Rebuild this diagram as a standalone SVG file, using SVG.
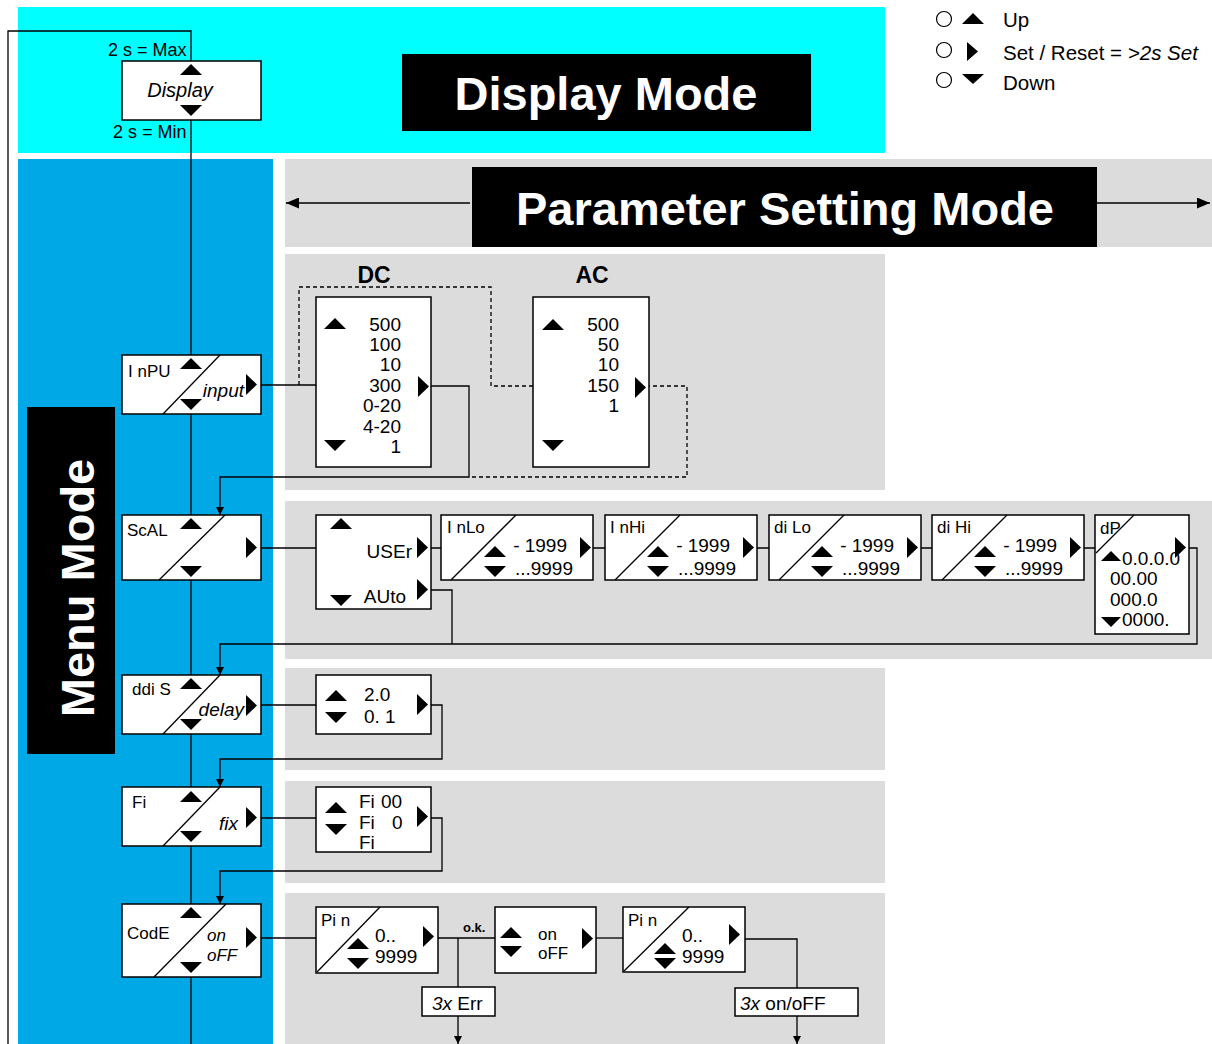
<svg xmlns="http://www.w3.org/2000/svg" xmlns:xlink="http://www.w3.org/1999/xlink" width="1212" height="1044" viewBox="0 0 1212 1044">
<style>
text { font-family: "Liberation Sans", Arial, sans-serif; fill: #000; }
.box { fill: #fff; stroke: #000; stroke-width: 1.5; }
.dg { stroke: #000; stroke-width: 1.3; }
.cn { fill: none; stroke: #000; stroke-width: 1.3; }
.dash { fill: none; stroke: #000; stroke-width: 1.3; stroke-dasharray: 4 3; }
.lcd { font-size: 19px; }
.lb { font-size: 17px; }
.it { font-style: italic; }
.title { font-size: 47px; font-weight: bold; fill: #fff; }
.leg { font-size: 20.5px; }
.gray { fill: #DCDCDC; }
</style>
<defs>
<path id="up" d="M0,0 L11,11 L-11,11 Z"/>
<path id="dn" d="M-11,0 L11,0 L0,11 Z"/>
<path id="rt" d="M0,0 L11,10.5 L0,21 Z"/>
<path id="ups" d="M0,0 L10,10 L-10,10 Z"/>
<path id="dns" d="M-10,0 L10,0 L0,10 Z"/>
<marker id="ah" markerWidth="8" markerHeight="8" refX="8" refY="4" orient="auto" markerUnits="userSpaceOnUse"><path d="M0,0 L8,4 L0,8 Z"/></marker>
<marker id="ahl" markerWidth="13" markerHeight="11" refX="13" refY="5.5" orient="auto" markerUnits="userSpaceOnUse"><path d="M0,0 L13,5.5 L0,11 Z"/></marker>
</defs>

<g id="background">
<rect x="0" y="0" width="1212" height="1044" fill="#fff"/>
<rect x="18" y="7" width="867" height="146" fill="#00FFFF"/>
<rect x="18" y="159" width="255" height="885" fill="#00A9E6"/>
<rect class="gray" x="285" y="159" width="927" height="88"/>
<rect class="gray" x="285" y="254" width="600" height="236"/>
<rect class="gray" x="285" y="501" width="927" height="158"/>
<rect class="gray" x="285" y="668" width="600" height="102"/>
<rect class="gray" x="285" y="781" width="600" height="102"/>
<rect class="gray" x="285" y="893" width="600" height="151"/>
</g>

<g id="titles">
<rect x="402" y="54" width="409" height="77" fill="#000"/>
<text class="title" x="606" y="110" text-anchor="middle">Display Mode</text>
<rect x="472" y="167" width="625" height="80" fill="#000"/>
<text class="title" x="785" y="225" text-anchor="middle">Parameter Setting Mode</text>
<rect x="27" y="407" width="88" height="347" fill="#000"/>
<text class="title" transform="translate(94,588) rotate(-90)" x="0" y="0" text-anchor="middle">Menu Mode</text>
</g>

<g id="legend">
<circle cx="944" cy="19" r="7.5" fill="#fff" stroke="#000" stroke-width="1.2"/>
<circle cx="944" cy="50" r="7.5" fill="#fff" stroke="#000" stroke-width="1.2"/>
<circle cx="944" cy="80" r="7.5" fill="#fff" stroke="#000" stroke-width="1.2"/>
<use xlink:href="#up" x="973" y="13"/>
<path d="M967,42 L978,51.5 L967,61 Z"/>
<path d="M962,74 L984,74 L973,84 Z"/>
<text class="leg" x="1003" y="27">Up</text>
<text class="leg" x="1003" y="60">Set / Reset = <tspan class="it">&gt;2s Set</tspan></text>
<text class="leg" x="1003" y="90">Down</text>
</g>

<g id="connectors">
<path class="cn" d="M8,1044 V31 H191 V1044"/>
<path class="cn" d="M261,385 H316"/>
<path class="dash" d="M299,385 V287 H491 V386 H533"/>
<path class="dash" d="M646,386 H687 V477 H469"/>
<path class="cn" d="M429,386 H469 V477 H220 V515" marker-end="url(#ah)"/>
<path class="cn" d="M261,548 H316"/>
<path class="cn" d="M431,548 H441 M593,548 H605 M757,548 H769 M921,548 H932 M1084,548 H1095"/>
<path class="cn" d="M1189,548 H1197 V644 H220 V675" marker-end="url(#ah)"/>
<path class="cn" d="M431,590 H452 V644"/>
<path class="cn" d="M261,705 H316"/>
<path class="cn" d="M431,705 H442 V759 H220 V787" marker-end="url(#ah)"/>
<path class="cn" d="M261,818 H316"/>
<path class="cn" d="M431,818 H442 V871 H220 V904" marker-end="url(#ah)"/>
<path class="cn" d="M261,938 H316"/>
<path class="cn" d="M438,938 H495"/>
<path class="cn" d="M458,938 V987"/>
<path class="cn" d="M458,1016 V1044" marker-end="url(#ah)"/>
<path class="cn" d="M596,938 H623"/>
<path class="cn" d="M745,939 H797 V988"/>
<path class="cn" d="M797,1016 V1044" marker-end="url(#ah)"/>
<path class="cn" d="M470,203 H286" marker-end="url(#ahl)"/>
<path class="cn" d="M1097,203 H1210" marker-end="url(#ahl)"/>
<text x="463" y="932" font-size="13" font-weight="bold">o.k.</text>
<text x="108" y="56" font-size="18">2 s = Max</text>
<text x="113" y="138" font-size="18">2 s = Min</text>
</g>

<g id="display">
<rect class="box" x="122" y="61" width="139" height="59"/>
<use xlink:href="#up" x="191" y="64"/>
<use xlink:href="#dn" x="191" y="105"/>
<text class="it" x="180" y="97" font-size="20" text-anchor="middle">Display</text>
</g>

<g id="menu-inpu">
<rect class="box" x="122" y="355" width="139" height="59"/>
<line class="dg" x1="163" y1="414" x2="220" y2="355"/>
<text class="lb" x="128" y="377">I nPU</text>
<use xlink:href="#up" x="191" y="358"/>
<use xlink:href="#dn" x="191" y="399"/>
<text class="it" x="244" y="397" font-size="19" text-anchor="end">input</text>
<use xlink:href="#rt" x="246" y="374"/>
</g>

<g id="menu-scal">
<rect class="box" x="122" y="515" width="139" height="65"/>
<line class="dg" x1="159" y1="580" x2="225" y2="515"/>
<text class="lb" x="127" y="536">ScAL</text>
<use xlink:href="#up" x="191" y="518"/>
<use xlink:href="#dn" x="191" y="566"/>
<use xlink:href="#rt" x="246" y="537"/>
</g>

<g id="menu-ddis">
<rect class="box" x="122" y="675" width="139" height="59"/>
<line class="dg" x1="163" y1="734" x2="220" y2="675"/>
<text class="lb" x="132" y="695">ddi S</text>
<use xlink:href="#up" x="191" y="678"/>
<use xlink:href="#dn" x="191" y="719"/>
<text class="it" x="244" y="716" font-size="19" text-anchor="end">delay</text>
<use xlink:href="#rt" x="246" y="695"/>
</g>

<g id="menu-fi">
<rect class="box" x="122" y="787" width="139" height="59"/>
<line class="dg" x1="163" y1="846" x2="220" y2="787"/>
<text class="lb" x="132" y="808">Fi</text>
<use xlink:href="#up" x="191" y="791"/>
<use xlink:href="#dn" x="191" y="831"/>
<text class="it" x="238" y="830" font-size="19" text-anchor="end">fix</text>
<use xlink:href="#rt" x="246" y="807"/>
</g>

<g id="menu-code">
<rect class="box" x="122" y="904" width="139" height="73"/>
<line class="dg" x1="154" y1="977" x2="226" y2="904"/>
<text class="lb" x="127" y="939">CodE</text>
<use xlink:href="#up" x="191" y="907"/>
<use xlink:href="#dn" x="191" y="962"/>
<text class="it" x="207" y="941" font-size="17">on</text>
<text class="it" x="207" y="961" font-size="17">oFF</text>
<use xlink:href="#rt" x="246" y="927"/>
</g>

<g id="dc">
<text x="374" y="283" font-size="23" font-weight="bold" text-anchor="middle">DC</text>
<rect class="box" x="316" y="297" width="115" height="170"/>
<use xlink:href="#up" x="335" y="318"/>
<use xlink:href="#dn" x="335" y="440"/>
<g class="lcd" text-anchor="end">
<text x="401" y="331">500</text>
<text x="401" y="351">100</text>
<text x="401" y="371">10</text>
<text x="401" y="392">300</text>
<text x="401" y="412">0-20</text>
<text x="401" y="433">4-20</text>
<text x="401" y="453">1</text>
</g>
<use xlink:href="#rt" x="418" y="376"/>
</g>

<g id="ac">
<text x="592" y="283" font-size="23" font-weight="bold" text-anchor="middle">AC</text>
<rect class="box" x="533" y="297" width="116" height="170"/>
<use xlink:href="#up" x="553" y="319"/>
<use xlink:href="#dn" x="553" y="440"/>
<g class="lcd" text-anchor="end">
<text x="619" y="331">500</text>
<text x="619" y="351">50</text>
<text x="619" y="371">10</text>
<text x="619" y="392">150</text>
<text x="619" y="412">1</text>
</g>
<use xlink:href="#rt" x="635" y="377"/>
</g>

<g id="scal-mode">
<rect class="box" x="316" y="515" width="115" height="94"/>
<use xlink:href="#up" x="341" y="518"/>
<use xlink:href="#dn" x="341" y="595"/>
<text class="lcd" x="412" y="558" text-anchor="end">USEr</text>
<text class="lcd" x="406" y="603" text-anchor="end">AUto</text>
<use xlink:href="#rt" x="417" y="537"/>
<use xlink:href="#rt" x="417" y="579"/>
</g>

<g id="inlo">
<rect class="box" x="441" y="515" width="152" height="65"/>
<line class="dg" x1="451" y1="580" x2="516" y2="515"/>
<text class="lb" x="447" y="533">I nLo</text>
<use xlink:href="#up" x="495" y="546"/>
<use xlink:href="#dn" x="495" y="566"/>
<text class="lcd" x="567" y="552" text-anchor="end">- 1999</text>
<text class="lcd" x="573" y="575" text-anchor="end">...9999</text>
<use xlink:href="#rt" x="580" y="537"/>
</g>

<g id="inhi">
<rect class="box" x="605" y="515" width="152" height="65"/>
<line class="dg" x1="615" y1="580" x2="680" y2="515"/>
<text class="lb" x="610" y="533">I nHi</text>
<use xlink:href="#up" x="658" y="546"/>
<use xlink:href="#dn" x="658" y="566"/>
<text class="lcd" x="730" y="552" text-anchor="end">- 1999</text>
<text class="lcd" x="736" y="575" text-anchor="end">...9999</text>
<use xlink:href="#rt" x="743" y="537"/>
</g>

<g id="dilo">
<rect class="box" x="769" y="515" width="152" height="65"/>
<line class="dg" x1="779" y1="580" x2="844" y2="515"/>
<text class="lb" x="774" y="533">di Lo</text>
<use xlink:href="#up" x="822" y="546"/>
<use xlink:href="#dn" x="822" y="566"/>
<text class="lcd" x="894" y="552" text-anchor="end">- 1999</text>
<text class="lcd" x="900" y="575" text-anchor="end">...9999</text>
<use xlink:href="#rt" x="907" y="537"/>
</g>

<g id="dihi">
<rect class="box" x="932" y="515" width="152" height="65"/>
<line class="dg" x1="942" y1="580" x2="1007" y2="515"/>
<text class="lb" x="937" y="533">di Hi</text>
<use xlink:href="#up" x="985" y="546"/>
<use xlink:href="#dn" x="985" y="566"/>
<text class="lcd" x="1057" y="552" text-anchor="end">- 1999</text>
<text class="lcd" x="1063" y="575" text-anchor="end">...9999</text>
<use xlink:href="#rt" x="1070" y="537"/>
</g>

<g id="dp">
<rect class="box" x="1095" y="515" width="94" height="119"/>
<line class="dg" x1="1096" y1="553" x2="1134" y2="515"/>
<text class="lb" x="1100" y="534">dP</text>
<use xlink:href="#ups" x="1111" y="551"/>
<use xlink:href="#dns" x="1111" y="617"/>
<text class="lcd" x="1122" y="565" font-size="17">0.0.0.0</text>
<text class="lcd" x="1110" y="585" font-size="17">00.00</text>
<text class="lcd" x="1110" y="606" font-size="17">000.0</text>
<text class="lcd" x="1122" y="626" font-size="17">0000.</text>
<use xlink:href="#rt" x="1175" y="537"/>
</g>

<g id="delay-values">
<rect class="box" x="316" y="675" width="115" height="59"/>
<use xlink:href="#up" x="336" y="690"/>
<use xlink:href="#dn" x="336" y="712"/>
<text class="lcd" x="364" y="701">2.0</text>
<text class="lcd" x="364" y="723">0. 1</text>
<use xlink:href="#rt" x="417" y="694"/>
</g>

<g id="fix-values">
<rect class="box" x="316" y="787" width="115" height="65"/>
<use xlink:href="#up" x="336" y="802"/>
<use xlink:href="#dn" x="336" y="824"/>
<text class="lcd" x="359" y="808">Fi <tspan x="381">00</tspan></text>
<text class="lcd" x="359" y="829">Fi <tspan x="392">0</tspan></text>
<text class="lcd" x="359" y="849">Fi</text>
<use xlink:href="#rt" x="417" y="806"/>
</g>

<g id="pin1">
<rect class="box" x="316" y="907" width="122" height="66"/>
<line class="dg" x1="317" y1="972" x2="380" y2="907"/>
<text class="lb" x="321" y="926">Pi n</text>
<use xlink:href="#up" x="358" y="938"/>
<use xlink:href="#dn" x="358" y="958"/>
<text class="lcd" x="375" y="942" font-size="17">0..</text>
<text class="lcd" x="375" y="963" font-size="18">9999</text>
<use xlink:href="#rt" x="423" y="926"/>
</g>

<g id="onoff">
<rect class="box" x="495" y="907" width="101" height="66"/>
<use xlink:href="#up" x="511" y="927"/>
<use xlink:href="#dn" x="511" y="946"/>
<text class="lb" x="538" y="940">on</text>
<text class="lb" x="538" y="959">oFF</text>
<use xlink:href="#rt" x="582" y="928"/>
</g>

<g id="pin2">
<rect class="box" x="623" y="907" width="122" height="65"/>
<line class="dg" x1="624" y1="971" x2="689" y2="907"/>
<text class="lb" x="628" y="926">Pi n</text>
<use xlink:href="#up" x="665" y="943"/>
<use xlink:href="#dn" x="665" y="958"/>
<text class="lcd" x="682" y="942" font-size="17">0..</text>
<text class="lcd" x="682" y="963" font-size="18">9999</text>
<use xlink:href="#rt" x="729" y="924"/>
</g>

<g id="err">
<rect class="box" x="422" y="987" width="73" height="29"/>
<text x="432" y="1010" font-size="19"><tspan class="it">3x</tspan> Err</text>
</g>

<g id="onoff3x">
<rect class="box" x="735" y="988" width="123" height="28"/>
<text x="740" y="1010" font-size="19"><tspan class="it">3x</tspan> on/oFF</text>
</g>
</svg>
